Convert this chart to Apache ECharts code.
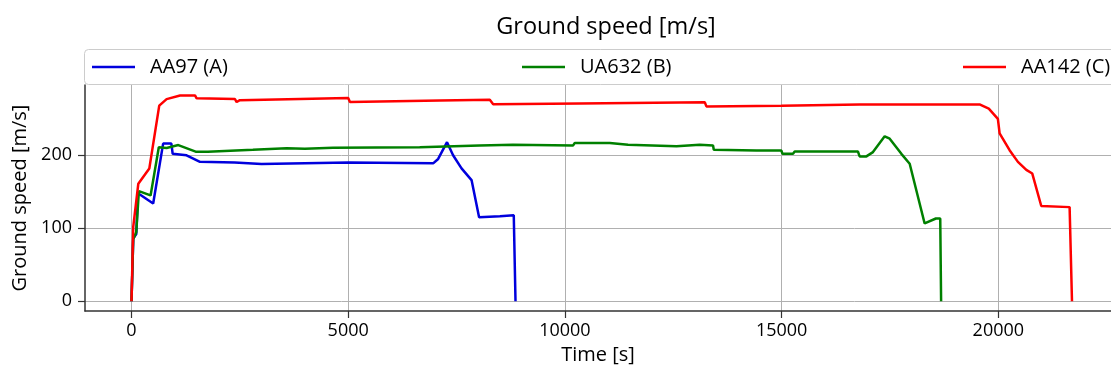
<!DOCTYPE html>
<html>
<head>
<meta charset="utf-8">
<script src="https://cdn.jsdelivr.net/npm/echarts@6/dist/echarts.min.js"></script>
<style>
html,body{margin:0;padding:0;background:#fff;}
#chart{width:1111px;height:372px;}
</style>
</head>
<body>
<div id="chart"></div>
<script>
// ---- data ----
const seriesNames = ['AA97 (A)', 'UA632 (B)', 'AA142 (C)'];
const xTicks = [0, 5000, 10000, 15000, 20000];
const yTicks = [0, 100, 200];

const aa97Time  = [0, 40, 110, 150, 500, 730, 920, 950, 1270, 1580, 2380, 2400, 3000, 3020, 5000, 5040, 6960, 7075, 7280, 7420, 7615, 7846, 8020, 8500, 8820, 8860];
const aa97Speed = [0, 86, 92, 148, 134, 216, 216, 202, 200, 191, 190, 188, 188, 190, 190, 188.5, 189, 195, 218, 200, 182, 166, 115, 116.5, 118, 0];

const ua632Time  = [0, 40, 110, 170, 440, 630, 810, 1080, 1480, 1760, 1770, 2800, 2810, 3580, 4000, 4650, 6650, 8030, 8800, 10190, 10228, 11035, 11075, 11457, 11496, 12574, 13110, 13418, 13435, 14418, 14995, 15018, 15263, 15302, 16760, 16800, 16956, 17108, 17378, 17494, 17763, 17955, 18300, 18560, 18660, 18680];
const ua632Speed = [0, 85, 95, 151, 145, 211, 210, 214, 205, 205, 207.5, 207.5, 209.5, 209.5, 209, 210.5, 211, 213.5, 214.5, 213.5, 217, 217, 215, 214.5, 212.5, 212.5, 214.5, 213.5, 207.5, 206.7, 206.5, 202.2, 202.2, 205.3, 205.3, 198.5, 198.5, 204.4, 226, 222.7, 202, 188.5, 106.6, 113.4, 113.4, 0];

const aa142Time  = [0, 40, 80, 157, 411, 640, 810, 1120, 1465, 1503, 2387, 2426, 2500, 5000, 5040, 7115, 8267, 8345, 10340, 13227, 13265, 14995, 16800, 19580, 19780, 19990, 20030, 20260, 20452, 20646, 20784, 20991, 21645, 21700];
const aa142Speed = [0, 102, 104, 161, 182, 268, 277, 282, 282, 278, 277, 273, 275.5, 278.5, 273, 275, 276, 270, 271, 272.7, 267, 268, 269.5, 269.5, 264, 250, 230, 207, 191, 180, 175, 130.5, 129, 0];

// ---- build ----
function pairs(t, v) { return t.map((x, i) => [x, v[i]]); }
const colors = ['#0000dd', '#008000', '#ff0000'];
const FONT = 'Open Sans';

const chart = echarts.init(document.getElementById('chart'), null, {renderer: 'canvas'});
const legendLefts = [92, 522, 963];

const option = {
  animation: false,
  backgroundColor: '#fff',
  textStyle: {fontFamily: FONT},
  title: {
    text: 'Ground speed [m/s]',
    left: 601,
    textAlign: 'center',
    top: 10,
    textStyle: {fontFamily: FONT, fontSize: 23.5, fontWeight: 'normal', color: '#000'}
  },
  graphic: [{
    type: 'rect',
    shape: {x: 84.5, y: 49.5, width: 1040, height: 35, r: 4},
    style: {fill: '#fff', stroke: '#cccccc', lineWidth: 1},
    z: -1
  }],
  legend: seriesNames.map((n, i) => ({
    data: [n],
    left: legendLefts[i],
    top: 57,
    icon: 'rect',
    itemWidth: 43,
    itemHeight: 2.5,
    padding: 0,
    textStyle: {fontFamily: FONT, fontSize: 20, color: '#000', padding: [0, 0, 0, 10]}
  })),
  grid: {left: 85, right: 0, top: 85, bottom: 61, containLabel: false, outerBoundsMode: 'none'},
  xAxis: {
    type: 'value',
    min: -1073,
    max: 22600,
    name: 'Time [s]',
    nameLocation: 'middle',
    nameGap: 34,
    nameTextStyle: {fontFamily: FONT, fontSize: 20, color: '#000'},
    axisLine: {show: true, onZero: false, lineStyle: {color: '#333', width: 1.5}},
    axisTick: {show: true, length: 7, customValues: xTicks, lineStyle: {color: '#333', width: 1.2}},
    axisLabel: {customValues: xTicks, formatter: v => String(v), fontFamily: FONT, fontSize: 18, color: '#000', margin: 11},
    splitLine: {show: true, lineStyle: {color: '#b0b0b0', width: 1}}
  },
  yAxis: {
    type: 'value',
    min: -13.3,
    max: 296.3,
    name: 'Ground speed [m/s]',
    nameLocation: 'middle',
    nameRotate: 90,
    nameGap: 53,
    nameTextStyle: {fontFamily: FONT, fontSize: 20, color: '#000'},
    axisLine: {show: true, onZero: false, lineStyle: {color: '#333', width: 1.5}},
    axisTick: {show: true, length: 7, customValues: yTicks, lineStyle: {color: '#333', width: 1.2}},
    axisLabel: {customValues: yTicks, formatter: v => String(v), fontFamily: FONT, fontSize: 18, color: '#000', margin: 13},
    splitLine: {show: true, lineStyle: {color: '#b0b0b0', width: 1}}
  },
  series: [
    {name: seriesNames[0], type: 'line', data: pairs(aa97Time, aa97Speed)},
    {name: seriesNames[1], type: 'line', data: pairs(ua632Time, ua632Speed)},
    {name: seriesNames[2], type: 'line', data: pairs(aa142Time, aa142Speed)}
  ].map((s, i) => Object.assign(s, {
    symbol: 'none',
    color: colors[i],
    lineStyle: {color: colors[i], width: 2.5},
    clip: true
  }))
};
chart.setOption(option);
</script>
</body>
</html>
